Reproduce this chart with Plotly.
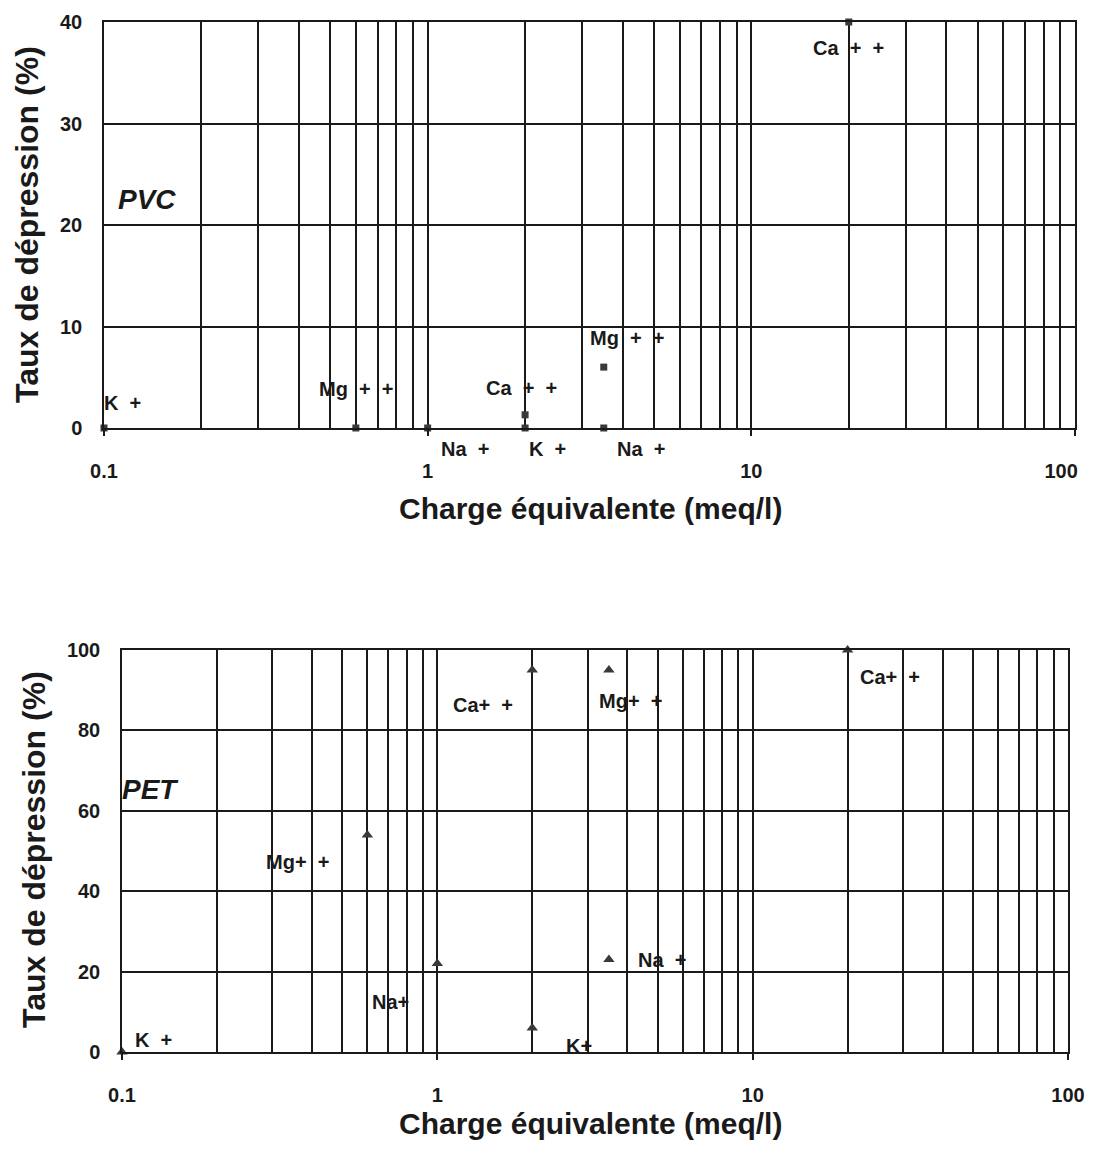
import math
import plotly.graph_objects as go

# PVC data (squares)
pvc_charge = [0.1, 0.6, 1, 2, 2, 3.5, 3.5, 20]
pvc_taux = [0, 0, 0, 1.3, 0, 6, 0, 40]
pvc_ions = ["K +", "Mg + +", "Na +", "Ca + +", "K +", "Mg + +", "Na +", "Ca + +"]

# PET data (triangles)
pet_charge = [0.1, 0.6, 1, 2, 2, 3.5, 3.5, 20]
pet_taux = [0, 54, 22, 95, 6, 95, 23, 100]
pet_ions = ["K +", "Mg+ +", "Na+", "Ca+ +", "K+", "Mg+ +", "Na +", "Ca+ +"]

pvc_yticks = [0, 10, 20, 30, 40]
pet_yticks = [0, 20, 40, 60, 80, 100]
x_major = [0.1, 1, 10, 100]
x_labels = ["0.1", "1", "10", "100"]

# label offsets in pixels from their point (x, y)
pvc_shift = [(18, 25), (0, 39), (37, -21), (-4, 27), (22, -21), (23, 29), (37, -21), (0, -26)]
pet_shift = [(31, 12), (-70, -27), (-47, -38), (-49, -35), (47, -18), (22, -31), (53, 0), (42, -27)]

x_minor = [m * 10 ** e for e in (-1, 0, 1) for m in range(2, 10)]

FONT = "Liberation Sans, Arial, sans-serif"
INK = "#1a1a1a"
PAGE = 8  # default body margin of the html page
W, H = 1097 - 2 * PAGE, 1149 - 2 * PAGE


def px_x(p):
    return (p - PAGE) / W


def px_y(p):
    return 1 - (p - PAGE) / H


fig = go.Figure()

fig.add_trace(go.Scatter(
    x=pvc_charge, y=pvc_taux, mode="markers",
    marker=dict(symbol="square", size=7, color="#3a3a3a"),
    cliponaxis=False, showlegend=False, xaxis="x", yaxis="y",
))
fig.add_trace(go.Scatter(
    x=pet_charge, y=pet_taux, mode="markers",
    marker=dict(symbol="triangle-up", size=10, color="#3a3a3a"),
    cliponaxis=False, showlegend=False, xaxis="x2", yaxis="y2",
))


def xaxis(domain, anchor, labels):
    return dict(
        type="log", domain=domain, anchor=anchor, range=[-1, 2], automargin=False,
        tickvals=x_major, ticktext=labels, ticks="outside", ticklen=6,
        tickcolor=INK, tickwidth=1.5, ticklabelstandoff=18, ticklabeloverflow="allow",
        showgrid=True, gridcolor=INK, gridwidth=1.5,
        minor=dict(tickvals=x_minor, showgrid=True, gridcolor=INK, gridwidth=1.5, ticks=""),
        showline=True, linecolor=INK, linewidth=1.5, mirror=True,
        zeroline=False,
        tickfont=dict(family=FONT, size=20, color=INK, weight="bold"),
    )


def yaxis(domain, anchor, rng, ticks):
    return dict(
        domain=domain, anchor=anchor, range=rng, tickvals=ticks, automargin=False,
        showgrid=True, gridcolor=INK, gridwidth=1.5, ticks="",
        ticklabelstandoff=16,
        showline=True, linecolor=INK, linewidth=1.5, mirror=True,
        zeroline=False,
        tickfont=dict(family=FONT, size=20, color=INK, weight="bold"),
    )


# the last top label sits a little left of its tick, as in the scan
top_labels = x_labels[:-1] + [x_labels[-1] + "\u00a0" * 5]

fig.update_layout(
    template="none",
    width=W, height=H,
    margin=dict(l=0, r=0, t=0, b=0, pad=0),
    paper_bgcolor="white", plot_bgcolor="white",
    xaxis=xaxis([px_x(104), px_x(1075)], "y", top_labels),
    yaxis=yaxis([px_y(428), px_y(22)], "x", [0, 40], pvc_yticks),
    xaxis2=xaxis([px_x(122), px_x(1068)], "y2", x_labels),
    yaxis2=yaxis([px_y(1052), px_y(650)], "x2", [0, 100], pet_yticks),
)

label_font = dict(family=FONT, size=20, color=INK, weight="bold")
annotations = []
for xs, ys, names, shifts, xr, yr in [
    (pvc_charge, pvc_taux, pvc_ions, pvc_shift, "x", "y"),
    (pet_charge, pet_taux, pet_ions, pet_shift, "x2", "y2"),
]:
    for xv, yv, name, (dx, dy) in zip(xs, ys, names, shifts):
        annotations.append(dict(
            x=math.log10(xv), y=yv, xref=xr, yref=yr,
            text=name.replace(" ", "\u00a0\u00a0"),
            xanchor="center", yanchor="middle",
            showarrow=False, xshift=dx, yshift=dy, font=label_font,
        ))


def paper_text(x, y, text, font, angle=0):
    return dict(x=px_x(x), y=px_y(y), xref="paper", yref="paper", text=text,
                xanchor="center", yanchor="middle", textangle=angle,
                showarrow=False, font=font)


# material names
tag_font = dict(family=FONT, size=28, color=INK, weight="bold", style="italic")
annotations.append(paper_text(147, 200, "PVC", tag_font))
annotations.append(paper_text(150, 789, "PET", tag_font))

# axis titles
for ty in (508, 1123):
    annotations.append(paper_text(590, ty, "Charge équivalente (meq/l)",
                                  dict(family=FONT, size=30, color=INK, weight="bold")))
for tx, ty in ((27, 225), (34, 850)):
    annotations.append(paper_text(tx, ty, "Taux de dépression (%)",
                                  dict(family=FONT, size=32, color=INK, weight="bold"), -90))

fig.update_layout(annotations=annotations)

fig.write_html("out.html")
